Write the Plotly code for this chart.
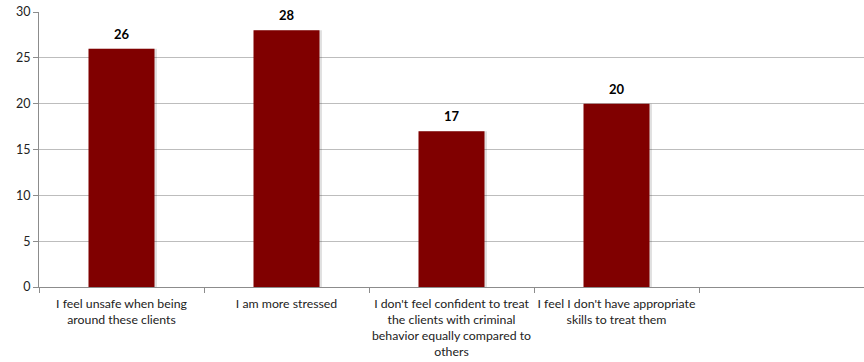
import plotly.graph_objects as go

categories = [
    "I feel unsafe when being<br>around these clients",
    "I am more stressed",
    "I don't feel confident to treat<br>the clients with criminal<br>behavior equally compared to<br>others",
    "I feel I don't have appropriate<br>skills to treat them",
    " ",
]
values = [26, 28, 17, 20]
y_ticks = [0, 5, 10, 15, 20, 25, 30]

BAR_COLOR = "#800000"
FONT = "Lato, 'Open Sans', sans-serif"

fig = go.Figure()

# soft drop shadow behind each bar
fig.add_trace(go.Bar(
    x=categories[:len(values)], y=values,
    width=0.41, offset=-0.195,
    marker=dict(color="rgba(0,0,0,0.12)", line=dict(width=0)),
    hoverinfo="skip", showlegend=False,
))
fig.add_trace(go.Bar(
    x=categories[:len(values)], y=values,
    width=0.4, offset=-0.2,
    marker=dict(color=BAR_COLOR, line=dict(width=0)),
    showlegend=False,
))

for c, v in zip(categories, values):
    fig.add_annotation(
        x=c, y=v, text=f"<b>{v}</b>", showarrow=False,
        yanchor="bottom", yshift=5,
        font=dict(family=FONT, size=13, color="#000000"),
    )

fig.update_layout(
    width=864, height=362,
    margin=dict(l=39, r=0, t=12, b=75),
    paper_bgcolor="white", plot_bgcolor="white",
    barmode="overlay",
    font=dict(family=FONT, size=12, color="#222222"),
)
fig.update_xaxes(
    type="category", categoryorder="array", categoryarray=categories,
    range=[-0.5, len(categories) - 0.5],
    tickson="boundaries", ticks="outside", ticklen=5, tickcolor="#8c8c8c",
    ticklabelstandoff=5, tickangle=0, automargin=False,
    showline=True, linecolor="#8c8c8c", linewidth=1,
    showgrid=False, tickfont=dict(family=FONT, size=12.3, color="#222222"),
)
fig.update_yaxes(
    range=[0, 30], tickvals=y_ticks,
    ticks="outside", ticklen=5, tickcolor="#8c8c8c", automargin=False,
    showline=True, linecolor="#8c8c8c", linewidth=1,
    showgrid=True, gridcolor="#bdbdbd", gridwidth=1,
    zeroline=False,
    tickfont=dict(family=FONT, size=12.5, color="#222222"),
)

fig.write_html("out.html")
